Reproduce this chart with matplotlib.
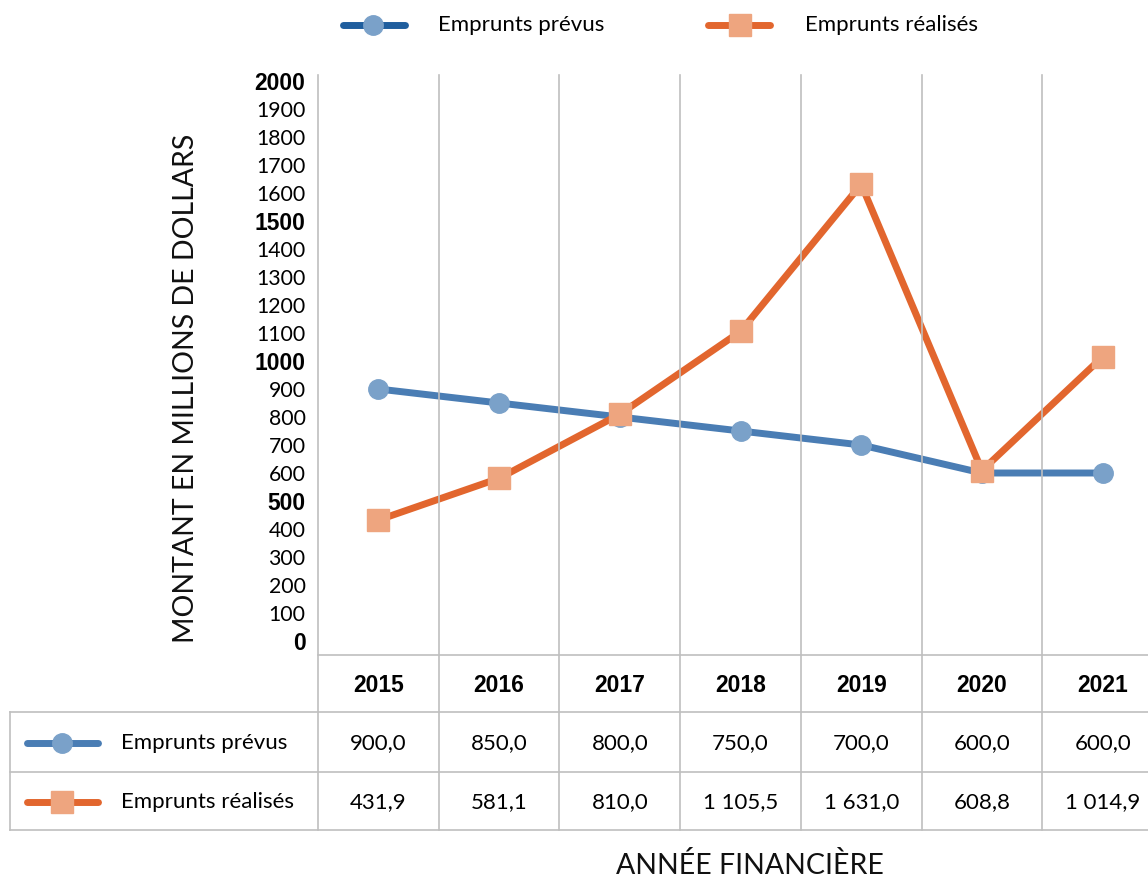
import matplotlib
matplotlib.use("Agg")
import matplotlib.pyplot as plt
from matplotlib.lines import Line2D

# ---- data ----
years = ["2015", "2016", "2017", "2018", "2019", "2020", "2021"]
prevus = [900.0, 850.0, 800.0, 750.0, 700.0, 600.0, 600.0]
realises = [431.9, 581.1, 810.0, 1105.5, 1631.0, 608.8, 1014.9]
prevus_txt = ["900,0", "850,0", "800,0", "750,0", "700,0", "600,0", "600,0"]
realises_txt = ["431,9", "581,1", "810,0", "1 105,5", "1 631,0", "608,8", "1 014,9"]
series_names = ["Emprunts prévus", "Emprunts réalisés"]
y_ticks = list(range(0, 2001, 100))

W, H = 1148, 880
BLUE_LINE = "#4A7DB4"
BLUE_LEG = "#1F5E9E"
BLUE_MK = "#7AA1C9"
ORANGE_LINE = "#E2662E"
ORANGE_MK = "#EEA57F"
GRID = "#BFBFBF"
FONT = "Lato"
BOLD = "Liberation Sans"


def fx(x):
    return x / W


def fy(y):
    return 1 - y / H


fig = plt.figure(figsize=(W / 100, H / 100), dpi=100)

# plot area in pixels (right edge runs past the image, as in the original)
left, right, top, bottom = 318, 1163, 75, 655
col_w = (right - left) / 7
ax = fig.add_axes([fx(left), fy(bottom), fx(right) - fx(left), fy(top) - fy(bottom)])

# y mapping: 0 -> 641 px, 2000 -> 81 px
per_px = 2000 / (641 - 81)
ax.set_ylim(-(bottom - 641) * per_px, (641 - top) * per_px)
ax.set_xlim(0, 7)

x = [i + 0.5 for i in range(7)]
ax.plot(x, prevus, color=BLUE_LINE, lw=5, marker="o", ms=14,
        mfc=BLUE_MK, mec=BLUE_MK, zorder=3, solid_capstyle="round")
ax.plot(x, realises, color=ORANGE_LINE, lw=5, marker="s", ms=16,
        mfc=ORANGE_MK, mec=ORANGE_MK, zorder=4, solid_capstyle="round")

ax.set_yticks(y_ticks)
ax.set_yticklabels([str(v) for v in y_ticks])
for lab, v in zip(ax.get_yticklabels(), y_ticks):
    if v % 500 == 0:
        lab.set_fontfamily(BOLD)
        lab.set_fontweight("bold")
        lab.set_fontsize(16.5)
    else:
        lab.set_fontfamily(FONT)
        lab.set_fontsize(15.3)
ax.tick_params(axis="y", length=0, pad=9)
ax.set_xticks([])
for s in ax.spines.values():
    s.set_visible(False)

fig.text(fx(186), fy(388), "MONTANT EN MILLIONS DE DOLLARS", rotation=90,
         ha="center", va="center", fontsize=20.5, family=FONT, color="#111111")

# ---- grid / table lines ----
def hline(y, x0, x1):
    fig.add_artist(Line2D([fx(x0), fx(x1)], [fy(y), fy(y)], color=GRID, lw=1.2))


def vline(xp, y0, y1):
    fig.add_artist(Line2D([fx(xp), fx(xp)], [fy(y0), fy(y1)], color=GRID, lw=1.2))


for i in range(8):
    vline(left + i * col_w, top, 830)
vline(10, 712, 830)
hline(655, left, W)
hline(712, 10, W)
hline(772, 10, W)
hline(830, 10, W)

# header years
for i, yr in enumerate(years):
    fig.text(fx(left + (i + 0.5) * col_w), fy(685), yr, ha="center", va="center",
             fontsize=16.5, family=BOLD, fontweight="bold")

# table rows
rows = [(743, prevus_txt, BLUE_LINE, BLUE_MK, "o", 14),
        (802, realises_txt, ORANGE_LINE, ORANGE_MK, "s", 16)]
for (yr_px, vals, lc, mc, mk, ms), name in zip(rows, series_names):
    fig.add_artist(Line2D([fx(27), fx(98)], [fy(yr_px), fy(yr_px)], color=lc, lw=5,
                          solid_capstyle="round"))
    fig.add_artist(Line2D([fx(62)], [fy(yr_px)], marker=mk, ms=ms, mfc=mc, mec=mc, lw=0))
    fig.text(fx(121), fy(yr_px), name, ha="left", va="center", fontsize=16, family=FONT)
    for i, v in enumerate(vals):
        fig.text(fx(left + (i + 0.5) * col_w), fy(yr_px), v, ha="center", va="center",
                 fontsize=16, family=FONT)

fig.text(fx(750), fy(865), "ANNÉE FINANCIÈRE", ha="center", va="center",
         fontsize=20.5, family=FONT, color="#111111")

# ---- top legend ----
legend_items = [(343, 405, 373, BLUE_LEG, BLUE_MK, "o", 14, 438),
                (708, 770, 740, ORANGE_LINE, ORANGE_MK, "s", 16, 805)]
for (x0, x1, xm, lc, mc, mk, ms, xt), name in zip(legend_items, series_names):
    fig.add_artist(Line2D([fx(x0), fx(x1)], [fy(25), fy(25)], color=lc, lw=5,
                          solid_capstyle="round"))
    fig.add_artist(Line2D([fx(xm)], [fy(25)], marker=mk, ms=ms, mfc=mc, mec=mc, lw=0))
    fig.text(fx(xt), fy(25), name, ha="left", va="center", fontsize=16, family=FONT)

fig.savefig("out.png", dpi=100)
